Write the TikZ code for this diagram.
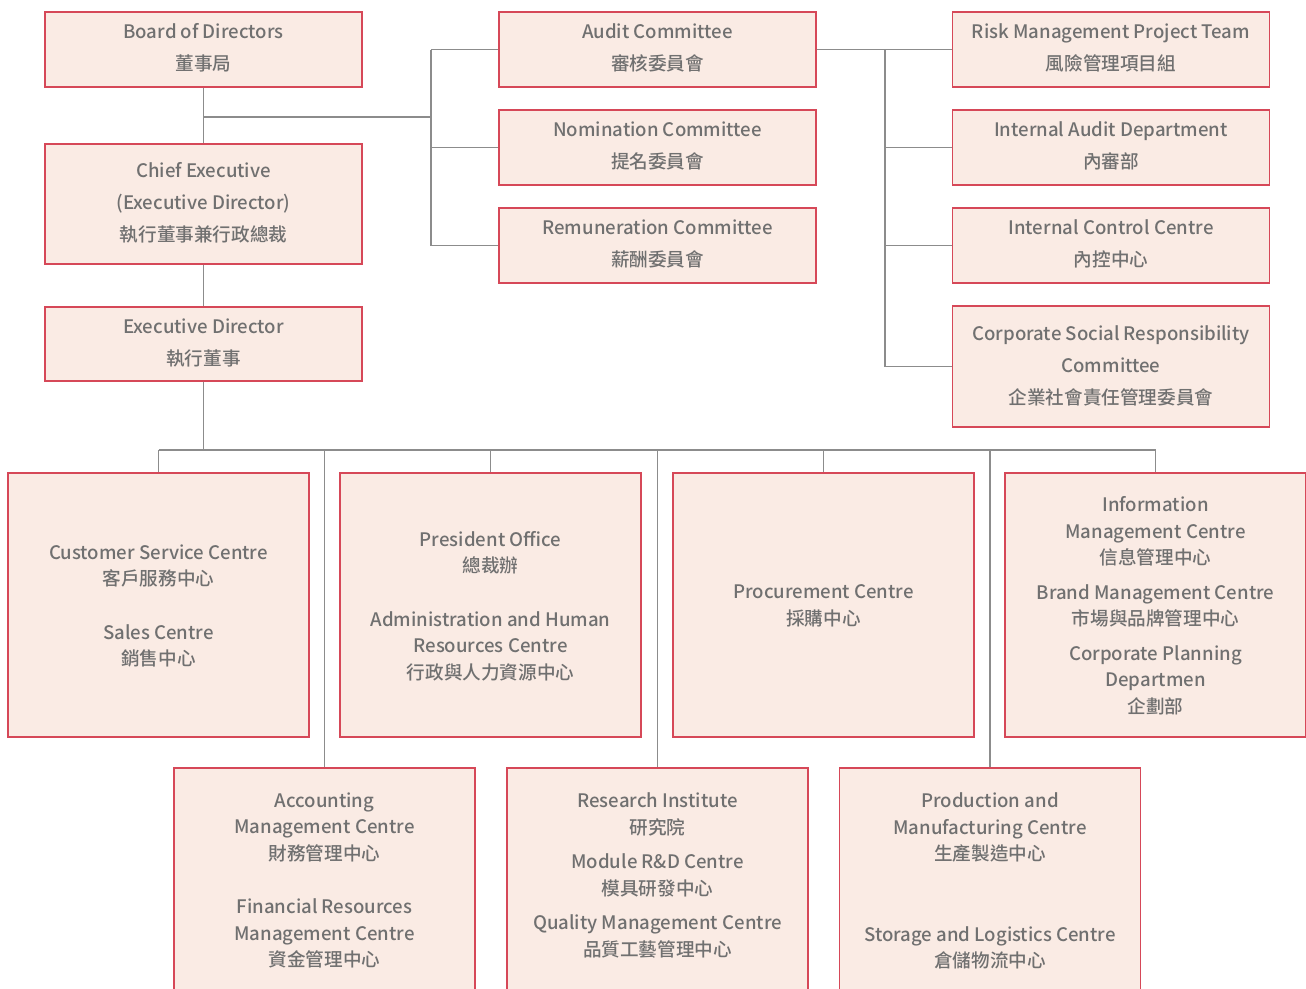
\documentclass[tikz,border=0pt]{standalone}
\usepackage{fontspec}
\setmainfont{Noto Sans CJK TC}[UprightFont=* Medium]
\definecolor{boxfill}{RGB}{250,235,228}
\definecolor{boxline}{RGB}{214,72,88}
\definecolor{txtcol}{RGB}{112,112,112}
\definecolor{linecol}{RGB}{140,140,140}
\tikzset{
  box/.style={draw=boxline, fill=boxfill, line width=1.1pt, rectangle, inner sep=0pt},
  upbox/.style={box, minimum width=317pt},
  lowbox/.style={box, minimum width=301pt},
  uptxt/.style={text=txtcol, align=center, font=\fontsize{18.6}{32}\selectfont, inner sep=0pt},
  lowtxt/.style={text=txtcol, align=center, font=\fontsize{18.6}{26.5}\selectfont, inner sep=0pt},
  conn/.style={draw=linecol, line width=1.2pt},
}
\begin{document}
\begin{tikzpicture}[x=1pt,y=-1pt]
\useasboundingbox (0,0) rectangle (1306,988);
\clip (0,0) rectangle (1306,988);
% upper boxes
\node[upbox, minimum height=75pt] (board) at (203.5,49.5) {};
\node[uptxt] (boardT) at (203.5,48) {Board of Directors\\董事局};
\node[upbox, minimum height=120pt] (chief) at (203.5,204) {};
\node[uptxt] (chiefT) at (203.5,203) {Chief Executive\\(Executive Director)\\執行董事兼行政總裁};
\node[upbox, minimum height=74pt] (exec) at (203.5,344) {};
\node[uptxt] (execT) at (203.5,343) {Executive Director\\執行董事};
\node[upbox, minimum height=75pt] (audit) at (657.5,49.5) {};
\node[uptxt] (auditT) at (657.5,48) {Audit Committee\\審核委員會};
\node[upbox, minimum height=75pt] (nom) at (657.5,147.5) {};
\node[uptxt] (nomT) at (657.5,146) {Nomination Committee\\提名委員會};
\node[upbox, minimum height=75pt] (rem) at (657.5,245.5) {};
\node[uptxt] (remT) at (657.5,244) {Remuneration Committee\\薪酬委員會};
\node[upbox, minimum height=75pt] (risk) at (1111,49.5) {};
\node[uptxt] (riskT) at (1111,48) {Risk Management Project Team\\風險管理項目組};
\node[upbox, minimum height=75pt] (iad) at (1111,147.5) {};
\node[uptxt] (iadT) at (1111,146) {Internal Audit Department\\內審部};
\node[upbox, minimum height=75pt] (icc) at (1111,245.5) {};
\node[uptxt] (iccT) at (1111,244) {Internal Control Centre\\內控中心};
\node[upbox, minimum height=121pt] (csr) at (1111,366.5) {};
\node[uptxt] (csrT) at (1111,366) {Corporate Social Responsibility\\Committee\\企業社會責任管理委員會};
% lower row 1
\node[lowbox, minimum height=264pt] (cust) at (158.5,605) {};
\node[lowtxt] (custT) at (158.5,606) {Customer Service Centre\\客戶服務中心\\[27pt]Sales Centre\\銷售中心};
\node[lowbox, minimum height=264pt] (pres) at (490.5,605) {};
\node[lowtxt] (presT) at (490.5,606) {President Office\\總裁辦\\[27pt]Administration and Human\\Resources Centre\\行政與人力資源中心};
\node[lowbox, minimum height=264pt] (proc) at (823.5,605) {};
\node[lowtxt] (procT) at (823.5,606) {Procurement Centre\\採購中心};
\node[lowbox, minimum height=264pt] (info) at (1155.5,605) {};
\node[lowtxt] (infoT) at (1155.5,605.5) {Information\\Management Centre\\信息管理中心\\[8pt]Brand Management Centre\\市場與品牌管理中心\\[8pt]Corporate Planning\\Departmen\\企劃部};
% lower row 2
\node[lowbox, minimum height=260pt] (acct) at (324.5,898) {};
\node[lowtxt, anchor=north] (acctT) at (324.5,792.5) {Accounting\\Management Centre\\財務管理中心\\[27pt]Financial Resources\\Management Centre\\資金管理中心};
\node[lowbox, minimum height=260pt] (res) at (657.5,898) {};
\node[lowtxt, anchor=north] (resT) at (657.5,792.5) {Research Institute\\研究院\\[8pt]Module R\&D Centre\\模具研發中心\\[8pt]Quality Management Centre\\品質工藝管理中心};
\node[lowbox, minimum height=260pt] (prod) at (990,898) {};
\node[lowtxt, anchor=north] (prodT) at (990,792.5) {Production and\\Manufacturing Centre\\生產製造中心\\[54pt]Storage and Logistics Centre\\倉儲物流中心};
% buses
\coordinate (busL) at (431,117);
\coordinate (busR) at (885,0);
\coordinate (busB) at (0,450);
% connectors
\draw[conn] (board.south) -- (chief.north);
\draw[conn] (board.south |- busL) -- (busL);
\draw[conn] (busL |- audit.west) -- (busL |- rem.west) -- (rem.west);
\draw[conn] (busL |- audit.west) -- (audit.west);
\draw[conn] (busL |- nom.west) -- (nom.west);
\draw[conn] (audit.east) -- (risk.west);
\draw[conn] (busR |- risk.west) -- (busR |- csr.west) -- (csr.west);
\draw[conn] (busR |- iad.west) -- (iad.west);
\draw[conn] (busR |- icc.west) -- (icc.west);
\draw[conn] (chief.south) -- (exec.north);
\draw[conn] (exec.south) -- (exec.south |- busB);
\draw[conn] (cust.north |- busB) -- (info.north |- busB);
\draw[conn] (cust.north |- busB) -- (cust.north);
\draw[conn] (pres.north |- busB) -- (pres.north);
\draw[conn] (proc.north |- busB) -- (proc.north);
\draw[conn] (info.north |- busB) -- (info.north);
\draw[conn] (acct.north |- busB) -- (acct.north);
\draw[conn] (res.north |- busB) -- (res.north);
\draw[conn] (prod.north |- busB) -- (prod.north);
\end{tikzpicture}
\end{document}
